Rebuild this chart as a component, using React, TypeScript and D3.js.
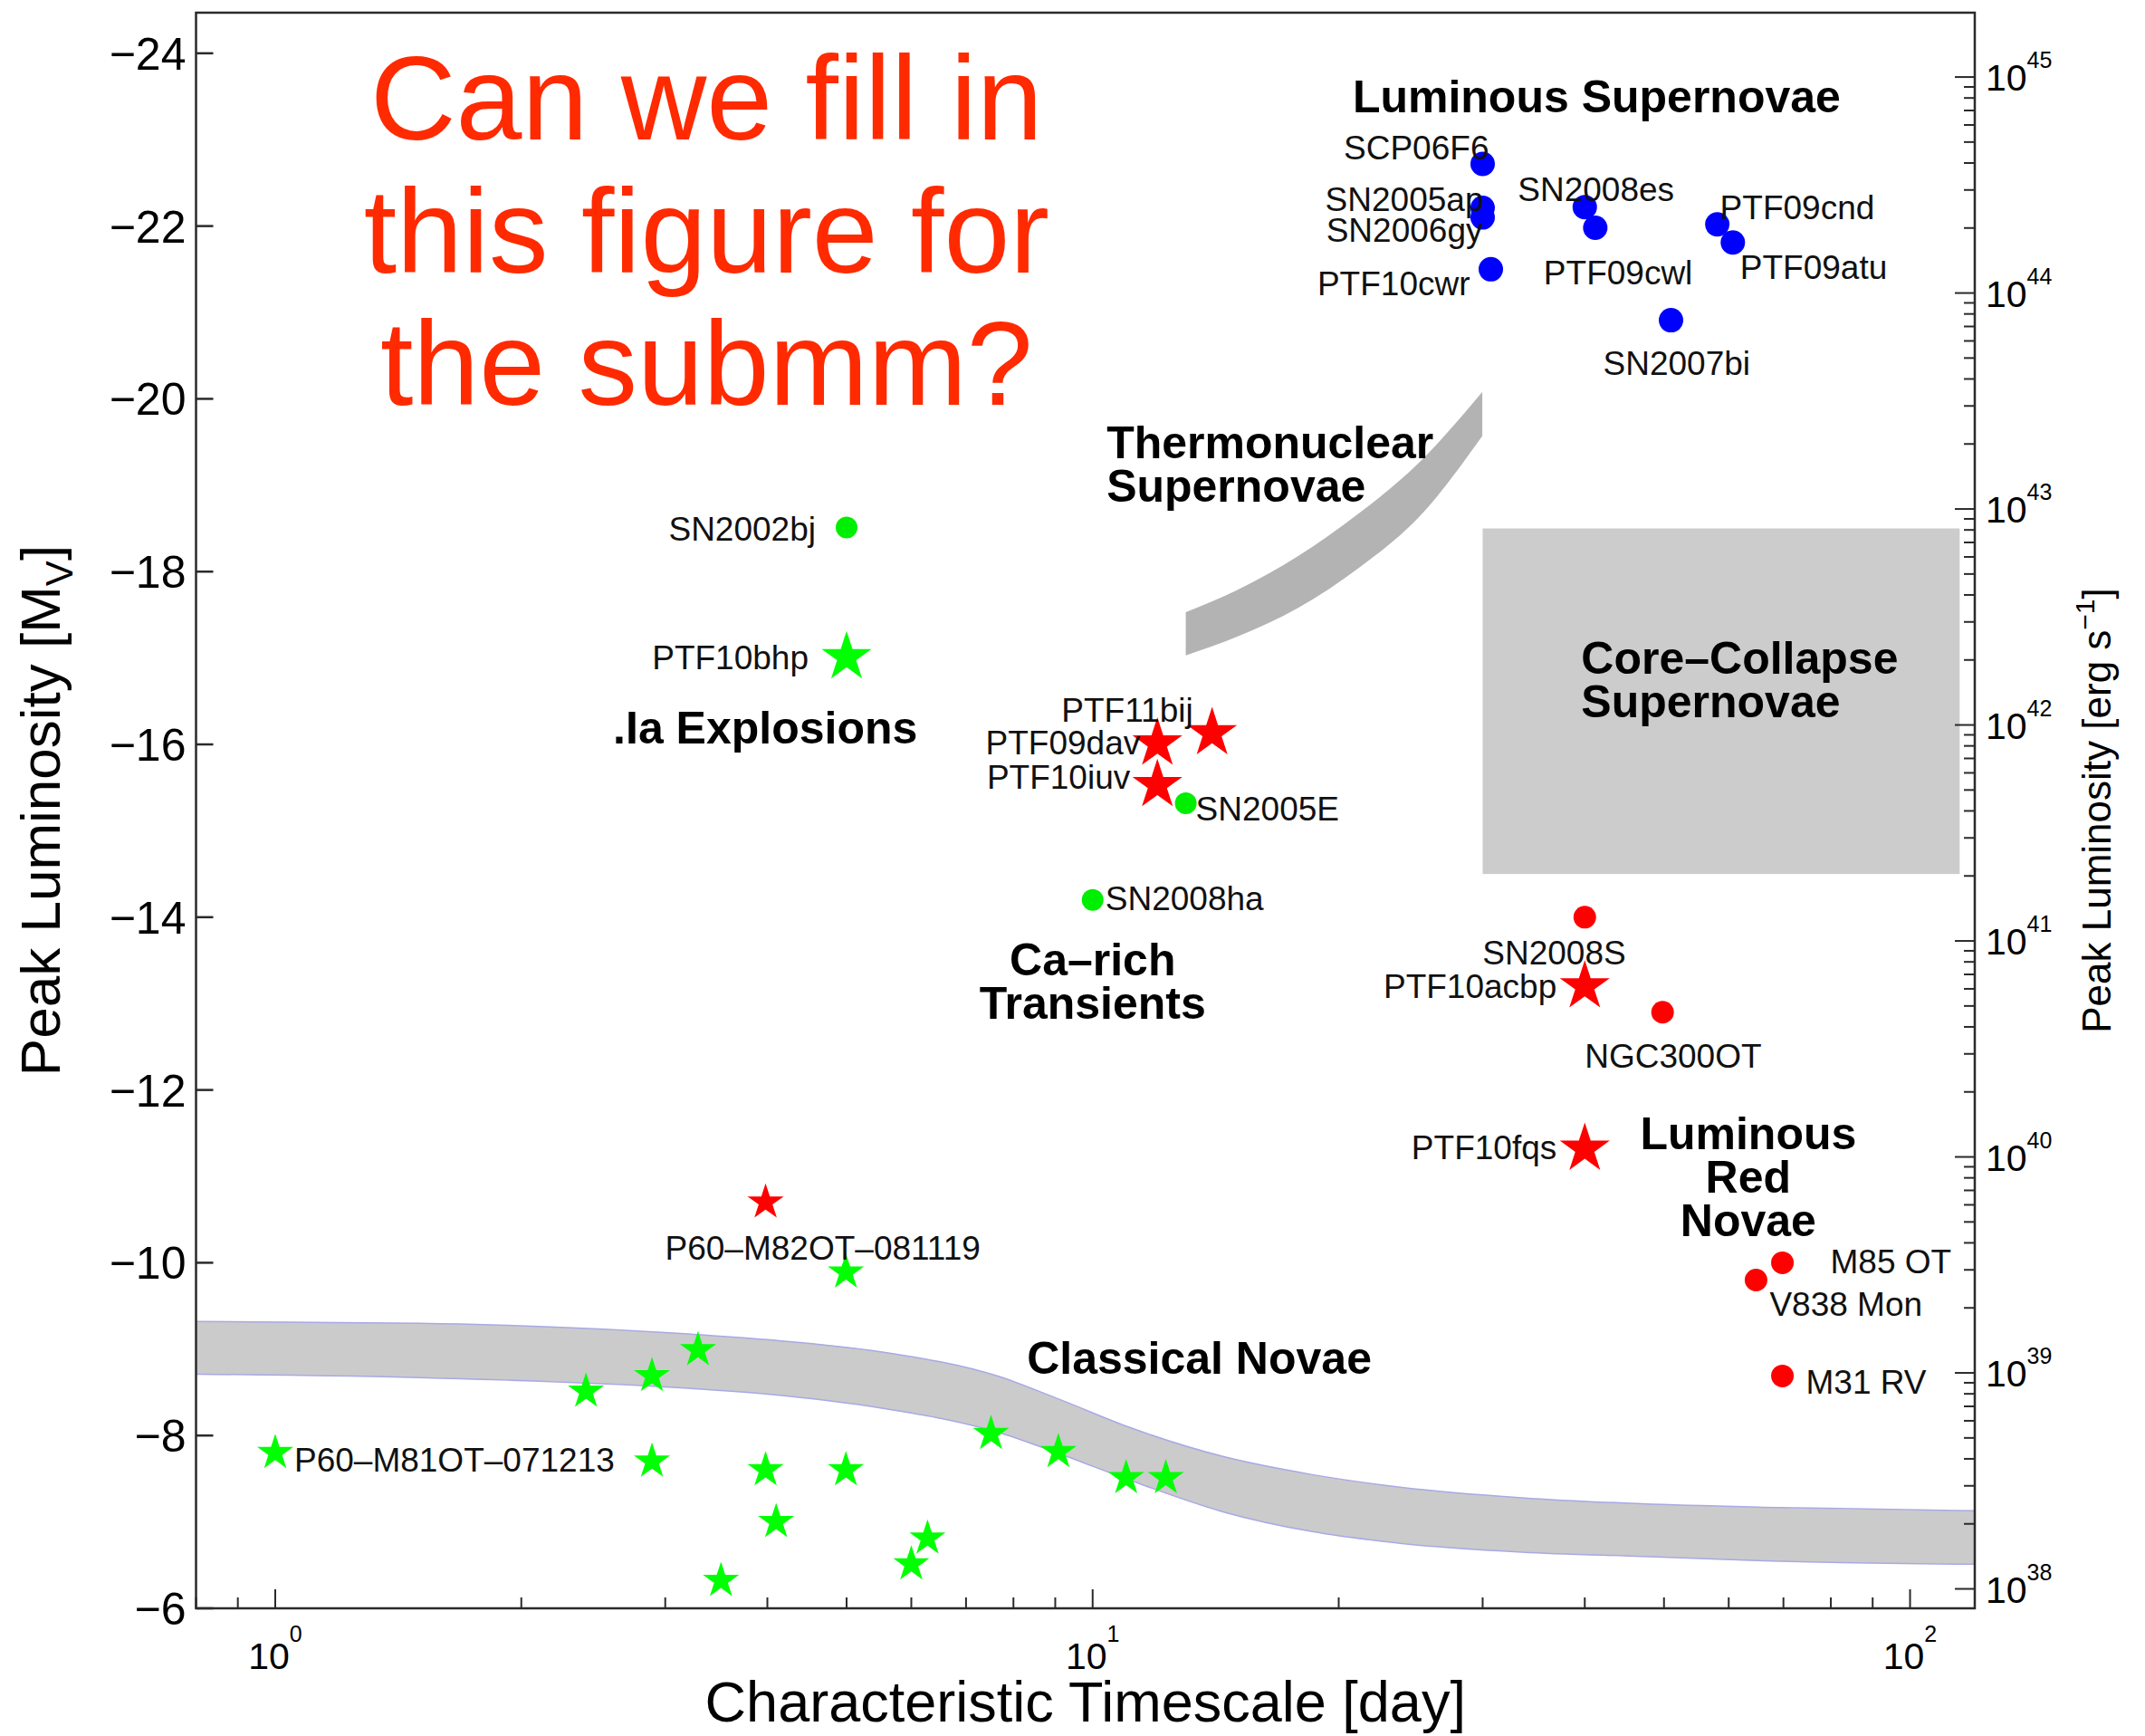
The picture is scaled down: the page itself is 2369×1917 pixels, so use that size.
import React, { useEffect, useRef } from 'react';
import * as d3 from 'd3';

const WIDTH = 2369;
const HEIGHT = 1917;

// timescale in days, peak absolute magnitude M_V
const luminousSN = [
  { name: 'SCP06F6', t: 30.0, mag: -22.72 },
  { name: 'SN2005ap', t: 30.0, mag: -22.21 },
  { name: 'SN2006gy', t: 30.0, mag: -22.1 },
  { name: 'PTF10cwr', t: 30.7, mag: -21.5 },
  { name: 'SN2008es', t: 40.0, mag: -22.22 },
  { name: 'PTF09cwl', t: 41.2, mag: -21.98 },
  { name: 'PTF09cnd', t: 58.1, mag: -22.02 },
  { name: 'PTF09atu', t: 60.7, mag: -21.81 },
  { name: 'SN2007bi', t: 51.0, mag: -20.91 },
];

const greenDots = [
  { name: 'SN2002bj', t: 5.0, mag: -18.51 },
  { name: 'SN2005E', t: 13.0, mag: -15.32 },
  { name: 'SN2008ha', t: 10.0, mag: -14.2 },
];

const greenBigStars = [{ name: 'PTF10bhp', t: 5.0, mag: -17.01 }];

const redBigStars = [
  { name: 'PTF11bij', t: 14.0, mag: -16.13 },
  { name: 'PTF09dav', t: 12.0, mag: -16.01 },
  { name: 'PTF10iuv', t: 12.0, mag: -15.53 },
  { name: 'PTF10acbp', t: 40.0, mag: -13.2 },
  { name: 'PTF10fqs', t: 40.0, mag: -11.32 },
];

const redDots = [
  { name: 'SN2008S', t: 40.0, mag: -14.0 },
  { name: 'NGC300OT', t: 49.8, mag: -12.9 },
  { name: 'M85 OT', t: 69.8, mag: -10.0 },
  { name: 'V838 Mon', t: 64.8, mag: -9.8 },
  { name: 'M31 RV', t: 69.8, mag: -8.69 },
];

const redSmallStars = [{ name: 'P60–M82OT–081119', t: 3.98, mag: -10.7 }];

const novaStars = [
  { name: 'P60–M81OT–071213', t: 1.0, mag: -7.8 },
  { name: '', t: 2.4, mag: -8.51 },
  { name: '', t: 2.89, mag: -8.69 },
  { name: '', t: 3.29, mag: -8.99 },
  { name: '', t: 2.89, mag: -7.7 },
  { name: '', t: 3.98, mag: -7.6 },
  { name: '', t: 4.99, mag: -7.6 },
  { name: '', t: 4.1, mag: -7.0 },
  { name: '', t: 3.51, mag: -6.32 },
  { name: '', t: 6.0, mag: -6.51 },
  { name: '', t: 6.28, mag: -6.81 },
  { name: '', t: 7.51, mag: -8.02 },
  { name: '', t: 9.08, mag: -7.81 },
  { name: '', t: 10.99, mag: -7.51 },
  { name: '', t: 12.29, mag: -7.51 },
  { name: '', t: 4.99, mag: -9.89 },
];

// classical novae band
const novaBandT = [0.8, 1.5, 2.9, 4.0, 5.5, 7.7, 9.1, 11.2, 14.4, 18.5, 23.9, 33.5, 47, 66, 120];
const novaBandUpper = [-9.32, -9.3, -9.2, -9.11, -8.97, -8.68, -8.42, -8.08, -7.76, -7.55, -7.4, -7.28, -7.21, -7.17, -7.13];
const novaBandLower = [-8.71, -8.67, -8.57, -8.48, -8.32, -8.03, -7.79, -7.47, -7.12, -6.89, -6.75, -6.65, -6.6, -6.55, -6.51];

// thermonuclear supernovae band
const thermoBandT = [13.0, 15.05, 17.84, 21.14, 25.07, 29.97];
const thermoBandUpper = [-17.53, -17.79, -18.18, -18.67, -19.26, -20.08];
const thermoBandLower = [-17.03, -17.25, -17.58, -18.04, -18.63, -19.57];

// core-collapse box
const coreCollapseT = [30, 115];
const coreCollapseMag = [-14.5, -18.5];

const magTicks = [-24, -22, -20, -18, -16, -14, -12, -10, -8, -6];
const timeTicks = [1, 10, 100];
const lumExponents = [38, 39, 40, 41, 42, 43, 44, 45];
const LUM_ZERO = 35.51; // log L = LUM_ZERO - 0.4 M

const groupLabels = [
  { lines: ['Luminous Supernovae'], t: 20.8, mag: -23.32, anchor: 'start' },
  { lines: ['Thermonuclear', 'Supernovae'], t: 10.4, mag: -19.31, anchor: 'start' },
  { lines: ['Core–Collapse', 'Supernovae'], t: 39.6, mag: -16.82, anchor: 'start' },
  { lines: ['.Ia Explosions'], t: 2.59, mag: -16.01, anchor: 'start' },
  { lines: ['Ca–rich', 'Transients'], t: 10.0, mag: -13.33, anchor: 'middle' },
  { lines: ['Luminous', 'Red', 'Novae'], t: 63.4, mag: -11.31, anchor: 'middle' },
  { lines: ['Classical Novae'], t: 8.31, mag: -8.72, anchor: 'start' },
];

const questionLines = ['Can we fill in', 'this figure for', 'the submm?'];

// label offsets in px: [dx, dy, anchor]
const labelPlacement: Record<string, [number, number, string]> = {
  SCP06F6: [7, -5, 'end'],
  SN2005ap: [1, 3, 'end'],
  SN2006gy: [0, 27, 'end'],
  PTF10cwr: [-23, 29, 'end'],
  SN2008es: [-74, -7, 'start'],
  PTF09cwl: [-57, 62, 'start'],
  PTF09cnd: [3, -6, 'start'],
  PTF09atu: [8, 40, 'start'],
  SN2007bi: [-75, 60, 'start'],
  SN2002bj: [-34, 14, 'end'],
  PTF10bhp: [-42, 13, 'end'],
  SN2005E: [11, 19, 'start'],
  SN2008ha: [14, 11, 'start'],
  'P60–M81OT–071213': [21, 21, 'start'],
  PTF11bij: [-21, -13, 'end'],
  PTF09dav: [-19, 12, 'end'],
  PTF10iuv: [-30, 4, 'end'],
  SN2008S: [-113, 52, 'start'],
  PTF10acbp: [-31, 13, 'end'],
  NGC300OT: [-86, 61, 'start'],
  PTF10fqs: [-31, 12, 'end'],
  'M85 OT': [53, 12, 'start'],
  'V838 Mon': [15, 40, 'start'],
  'M31 RV': [26, 20, 'start'],
  'P60–M82OT–081119': [-111, 63, 'start'],
};

const FONT = '"Liberation Sans", Arial, Helvetica, sans-serif';

const App = () => {
  const ref = useRef(null);

  useEffect(() => {
    const svg = d3.select(ref.current);
    svg.selectAll('*').remove();

    const left = 216.5, right = 2181, top = 14, bottom = 1776;
    const magTop = -24.47;

    const x = d3.scaleLog().domain([0.8, 120]).range([left, right]);
    const y = d3.scaleLinear().domain([-6, magTop]).range([bottom, top]);
    const lum = d3
      .scaleLog()
      .domain([10 ** (LUM_ZERO + 0.4 * 6), 10 ** (LUM_ZERO - 0.4 * magTop)])
      .range([bottom, top]);

    svg.append('rect').attr('width', WIDTH).attr('height', HEIGHT).attr('fill', '#fff');

    svg
      .append('defs')
      .append('clipPath')
      .attr('id', 'plot-clip')
      .append('rect')
      .attr('x', left)
      .attr('y', top)
      .attr('width', right - left)
      .attr('height', bottom - top);

    const plot = svg.append('g').attr('clip-path', 'url(#plot-clip)');

    // classical novae band
    const novaBand = novaBandT.map((t, i) => ({ t, hi: novaBandUpper[i], lo: novaBandLower[i] }));
    plot
      .append('path')
      .datum(novaBand)
      .attr('fill', '#cbcbcb')
      .attr(
        'd',
        d3
          .area<any>()
          .x(d => x(d.t))
          .y0(d => y(d.lo))
          .y1(d => y(d.hi))
          .curve(d3.curveMonotoneX)
      );
    ['hi', 'lo'].forEach(k => {
      plot
        .append('path')
        .datum(novaBand)
        .attr('fill', 'none')
        .attr('stroke', '#a9a9e6')
        .attr('stroke-width', 1.5)
        .attr(
          'd',
          d3
            .line<any>()
            .x(d => x(d.t))
            .y(d => y(d[k]))
            .curve(d3.curveMonotoneX)
        );
    });

    // thermonuclear band
    const thermoBand = thermoBandT.map((t, i) => ({ t, hi: thermoBandUpper[i], lo: thermoBandLower[i] }));
    plot
      .append('path')
      .datum(thermoBand)
      .attr('fill', '#b3b3b3')
      .attr(
        'd',
        d3
          .area<any>()
          .x(d => x(d.t))
          .y0(d => y(d.lo))
          .y1(d => y(d.hi))
          .curve(d3.curveMonotoneX)
      );

    // core-collapse box
    plot
      .append('rect')
      .attr('x', x(coreCollapseT[0]))
      .attr('width', x(coreCollapseT[1]) - x(coreCollapseT[0]))
      .attr('y', y(coreCollapseMag[1]))
      .attr('height', y(coreCollapseMag[0]) - y(coreCollapseMag[1]))
      .attr('fill', '#cccccc');

    // markers
    const dots = (data, color, r) => {
      plot
        .selectAll(null)
        .data(data)
        .enter()
        .append('circle')
        .attr('cx', d => x(d.t))
        .attr('cy', d => y(d.mag))
        .attr('r', r)
        .attr('fill', color);
    };
    const stars = (data, color, outer) => {
      const sym = d3.symbol().type(d3.symbolStar).size((outer * outer) / 0.8908130915292852);
      plot
        .selectAll(null)
        .data(data)
        .enter()
        .append('path')
        .attr('d', sym)
        .attr('transform', d => `translate(${x(d.t)},${y(d.mag)})`)
        .attr('fill', color);
    };

    dots(luminousSN, '#0000ff', 13.5);
    dots(greenDots, '#00ee00', 12);
    dots(redDots, '#ff0000', 12.5);
    stars(novaStars, '#00ff00', 21);
    stars(greenBigStars, '#00ff00', 29);
    stars(redSmallStars, '#ff0000', 21);
    stars(redBigStars, '#ff0000', 29);

    // point labels
    const allPoints = [
      ...luminousSN,
      ...greenDots,
      ...greenBigStars,
      ...redBigStars,
      ...redDots,
      ...redSmallStars,
      ...novaStars,
    ].filter(d => d.name && labelPlacement[d.name]);
    svg
      .selectAll(null)
      .data(allPoints)
      .enter()
      .append('text')
      .attr('x', d => x(d.t) + labelPlacement[d.name][0])
      .attr('y', d => y(d.mag) + labelPlacement[d.name][1])
      .attr('text-anchor', d => labelPlacement[d.name][2])
      .style('font-family', FONT)
      .style('font-size', '37px')
      .style('fill', '#111')
      .text(d => d.name);

    // group labels
    groupLabels.forEach(g => {
      g.lines.forEach((line, i) => {
        svg
          .append('text')
          .attr('x', x(g.t))
          .attr('y', y(g.mag) + i * 48)
          .attr('text-anchor', g.anchor)
          .style('font-family', FONT)
          .style('font-weight', 'bold')
          .style('font-size', '50px')
          .style('fill', '#000')
          .text(line);
      });
    });

    // the red question
    questionLines.forEach((line, i) => {
      svg
        .append('text')
        .attr('x', x(3.37))
        .attr('y', y(-23.0) + i * 146.5)
        .attr('text-anchor', 'middle')
        .style('font-family', FONT)
        .style('font-size', '131px')
        .style('fill', '#ff2a00')
        .text(line);
    });

    // frame
    const axisColor = '#2a2a2a';
    svg
      .append('rect')
      .attr('x', left)
      .attr('y', top)
      .attr('width', right - left)
      .attr('height', bottom - top)
      .attr('fill', 'none')
      .attr('stroke', axisColor)
      .attr('stroke-width', 2.5);

    // left axis
    magTicks.forEach(m => {
      svg
        .append('line')
        .attr('x1', left)
        .attr('x2', left + 19)
        .attr('y1', y(m))
        .attr('y2', y(m))
        .attr('stroke', axisColor)
        .attr('stroke-width', 2.5);
      svg
        .append('text')
        .attr('x', left - 11)
        .attr('y', y(m) + 18)
        .attr('text-anchor', 'end')
        .style('font-family', FONT)
        .style('font-size', '50px')
        .text(String(m).replace('-', '−'));
    });

    // bottom axis (log)
    const xMinor = [];
    [0.1, 1, 10].forEach(dec => {
      for (let j = 2; j <= 9; j++) {
        const v = j * dec;
        if (v >= 0.8 && v <= 120 && !timeTicks.includes(v)) xMinor.push(v);
      }
    });
    xMinor.forEach(v => {
      svg
        .append('line')
        .attr('x1', x(v))
        .attr('x2', x(v))
        .attr('y1', bottom)
        .attr('y2', bottom - 12)
        .attr('stroke', axisColor)
        .attr('stroke-width', 2);
    });
    timeTicks.forEach(v => {
      svg
        .append('line')
        .attr('x1', x(v))
        .attr('x2', x(v))
        .attr('y1', bottom)
        .attr('y2', bottom - 21)
        .attr('stroke', axisColor)
        .attr('stroke-width', 2);
      const t = svg
        .append('text')
        .attr('x', x(v))
        .attr('y', bottom + 67)
        .attr('text-anchor', 'middle')
        .style('font-family', FONT)
        .style('font-size', '41px');
      t.append('tspan').text('10');
      t.append('tspan')
        .attr('dy', -30)
        .style('font-size', '25px')
        .text(String(Math.round(Math.log10(v))));
    });

    // right axis (luminosity)
    lumExponents.forEach(e => {
      for (let j = 1; j <= 9; j++) {
        const v = j * 10 ** e;
        const [lo, hi] = lum.domain();
        if (v < lo || v > hi) continue;
        svg
          .append('line')
          .attr('x1', right)
          .attr('x2', right - (j === 1 ? 22 : 12))
          .attr('y1', lum(v))
          .attr('y2', lum(v))
          .attr('stroke', axisColor)
          .attr('stroke-width', 2);
      }
      const t = svg
        .append('text')
        .attr('x', right + 12)
        .attr('y', lum(10 ** e) + 15)
        .style('font-family', FONT)
        .style('font-size', '41px');
      t.append('tspan').text('10');
      t.append('tspan').attr('dy', -25).style('font-size', '25px').text(String(e));
    });

    // axis titles
    svg
      .append('text')
      .attr('x', (left + right) / 2)
      .attr('y', 1901)
      .attr('text-anchor', 'middle')
      .style('font-family', FONT)
      .style('font-size', '63px')
      .text('Characteristic Timescale [day]');

    const yTitle = svg
      .append('text')
      .attr('transform', `translate(66,${(top + bottom) / 2}) rotate(-90)`)
      .attr('text-anchor', 'middle')
      .style('font-family', FONT)
      .style('font-size', '62px');
    yTitle.append('tspan').text('Peak Luminosity [M');
    yTitle.append('tspan').attr('dy', 14).style('font-size', '42px').text('V');
    yTitle.append('tspan').attr('dy', -14).text(']');

    const rTitle = svg
      .append('text')
      .attr('transform', `translate(2331,${(top + bottom) / 2}) rotate(-90)`)
      .attr('text-anchor', 'middle')
      .style('font-family', FONT)
      .style('font-size', '44px');
    rTitle.append('tspan').text('Peak Luminosity [erg s');
    rTitle.append('tspan').attr('dy', -18).style('font-size', '30px').text('−1');
    rTitle.append('tspan').attr('dy', 18).text(']');
  }, []);

  return (
    <svg
      ref={ref}
      width={WIDTH}
      height={HEIGHT}
      style={{ position: 'absolute', left: 0, top: 0, display: 'block' }}
    />
  );
};

export default App;
